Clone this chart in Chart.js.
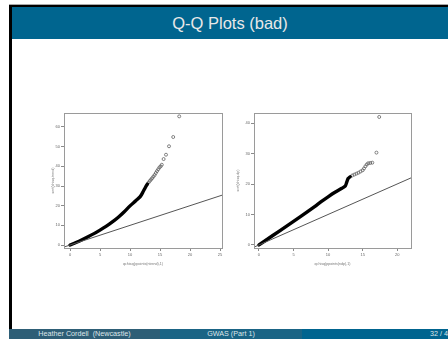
<!DOCTYPE html>
<html><head><meta charset="utf-8">
<script src="https://cdn.jsdelivr.net/npm/chart.js@4/dist/chart.umd.min.js"></script>
<style>
html,body{margin:0;padding:0;overflow:hidden;background:#fff}
body{width:448px;height:339px;position:relative;font-family:"Liberation Sans",Arial,sans-serif}
.abs{position:absolute}
#topgray{left:9px;top:4px;width:439px;height:1px;background:#a8a8a8}
#topblack{left:9px;top:5px;width:439px;height:2px;background:#000}
#leftblack{left:9px;top:5px;width:3px;height:324px;background:#000}
#titlebar{left:12px;top:7px;width:436px;height:32px;background:#00658f;color:#e8e8e8;font-size:16.5px;text-align:center;line-height:32px}
#footer{left:9px;top:329px;width:439px;height:10px;font-size:7.2px;color:#dfe6ea;line-height:10px;overflow:hidden}
#f1{left:0;width:151px;top:0;height:10px;background:#2e5e76;text-align:center}
#f2{left:151px;width:142px;top:0;height:10px;background:#1a6485;text-align:center}
#f3{left:293px;width:146px;top:0;height:10px;background:#00648f;overflow:hidden}
#f3 span{position:absolute;left:128px;white-space:nowrap}
#c1{left:46px;top:105px}
#c2{left:236px;top:105px}
</style></head>
<body>
<div id="topgray" class="abs"></div>
<div id="topblack" class="abs"></div>
<div id="leftblack" class="abs"></div>
<div id="titlebar" class="abs">Q-Q Plots (bad)</div>
<div id="footer" class="abs">
  <div id="f1" class="abs">Heather Cordell &nbsp;(Newcastle)</div>
  <div id="f2" class="abs">GWAS (Part 1)</div>
  <div id="f3" class="abs"><span>32 / 40</span></div>
</div>
<canvas id="c1" class="abs" width="185" height="170"></canvas>
<canvas id="c2" class="abs" width="190" height="170"></canvas>
<script>
// ---- data ----
const leftXTicks = [0, 5, 10, 15, 20, 25];
const leftYTicks = [0, 10, 20, 30, 40, 50, 60];
const leftDense = [[0,0],[1,1.3],[2,2.7],[3,4.2],[4,5.8],[5,7.6],[6,9.5],[7,11.6],[8,14.0],[9,16.8],[10,19.9],[11,22.6],[11.7,24.6],[12.2,27.2],[12.6,29.5],[12.9,31.0]];
const leftSparse = [[13.1,31.8],[13.3,32.6],[13.5,33.3],[13.7,34.0],[13.9,34.8],[14.1,35.6],[14.3,36.6],[14.5,37.6],[14.7,38.5],[14.9,39.4],[15.1,40.0],[15.3,40.8],[15.6,43.7],[16.0,45.9],[16.5,50.2],[17.2,54.9],[18.2,65.4]];
const rightXTicks = [0, 5, 10, 15, 20];
const rightYTicks = [0, 10, 20, 30, 40];
const rightDense = [[0,0],[2,3.1],[4,6.2],[6,9.3],[8,12.5],[9,14.2],[10,15.8],[11,17.3],[12,18.6],[12.5,19.4],[12.7,20.6],[12.9,21.8],[13.2,22.4]];
const rightSparse = [[13.5,22.8],[13.8,23.1],[14.1,23.4],[14.4,23.7],[14.7,24.1],[15.0,24.5],[15.2,25.1],[15.4,25.8],[15.6,26.4],[15.8,26.8],[16.1,26.9],[16.4,27.0],[17.0,30.3],[17.4,42.0]];
const leftRange = {xmin:-1.0, xmax:25.33, ymin:-1.5, ymax:67.1};
const rightRange = {xmin:-0.72, xmax:22.0, ymin:-1.0, ymax:43.3};
const leftLabels = {x:"qchisq(ppoints(ntrend),1)", y:"sort(chisq.trend)"};
const rightLabels = {x:"qchisq(ppoints(ndp),1)", y:"sort(chisq.dp)"};

const toPts = a => a.map(p => ({x:p[0], y:p[1]}));

const boxPlugin = {
  id:'box',
  afterDraw(chart){
    const {ctx, chartArea:a} = chart;
    ctx.save();
    ctx.strokeStyle = '#9a9a9a';
    ctx.lineWidth = 1;
    ctx.strokeRect(Math.round(a.left)+0.5, Math.round(a.top)+0.5, Math.round(a.right-a.left), Math.round(a.bottom-a.top));
    ctx.restore();
  }
};

function makeChart(id, dense, sparse, xt, yt, r, labels, pad, yTitlePad){
  const tickFont = {family:'Liberation Sans', size:4};
  new Chart(document.getElementById(id), {
    type:'scatter',
    data:{datasets:[
      {data:[{x:r.xmin-2,y:r.xmin-2},{x:r.xmax+2,y:r.xmax+2}], showLine:true, borderColor:'#555', borderWidth:1, pointRadius:0},
      {data:toPts(dense), showLine:true, borderColor:'#000', borderWidth:3.4, pointRadius:0, tension:0.3, borderCapStyle:'round'},
      {data:toPts(sparse), showLine:false, pointRadius:1.5, pointBorderWidth:0.7, pointBorderColor:'#505050', pointBackgroundColor:'rgba(0,0,0,0)'}
    ]},
    options:{
      responsive:false, animation:false, devicePixelRatio:1,
      layout:{padding:pad},
      plugins:{legend:{display:false}, tooltip:{enabled:false}},
      scales:{
        x:{type:'linear', min:r.xmin, max:r.xmax,
           afterBuildTicks:s=>{s.ticks = xt.map(v=>({value:v}));},
           afterFit:s=>{s.height = 18;},
           border:{display:false},
           grid:{display:true, drawOnChartArea:false, drawTicks:true, tickLength:3, color:'#8a8a8a'},
           ticks:{font:tickFont, color:'#666', padding:1, maxRotation:0, autoSkip:false},
           title:{display:true, text:labels.x, font:{family:'Liberation Sans', size:3.6}, color:'#777', padding:{top:0,bottom:0}}},
        y:{type:'linear', min:r.ymin, max:r.ymax,
           afterBuildTicks:s=>{s.ticks = yt.map(v=>({value:v}));},
           afterFit:s=>{s.width = 18;},
           border:{display:false},
           grid:{display:true, drawOnChartArea:false, drawTicks:true, tickLength:3, color:'#8a8a8a'},
           ticks:{font:tickFont, color:'#666', padding:1, autoSkip:false},
           title:{display:true, text:labels.y, font:{family:'Liberation Sans', size:3.6}, color:'#777', padding:{top:yTitlePad,bottom:0}}}
      }
    },
    plugins:[boxPlugin]
  });
}
makeChart('c1', leftDense, leftSparse, leftXTicks, leftYTicks, leftRange, leftLabels, {left:0, top:8, right:9, bottom:9}, 5);
makeChart('c2', rightDense, rightSparse, rightXTicks, rightYTicks, rightRange, rightLabels, {left:0, top:8, right:15, bottom:9}, 0);
</script>
</body></html>
